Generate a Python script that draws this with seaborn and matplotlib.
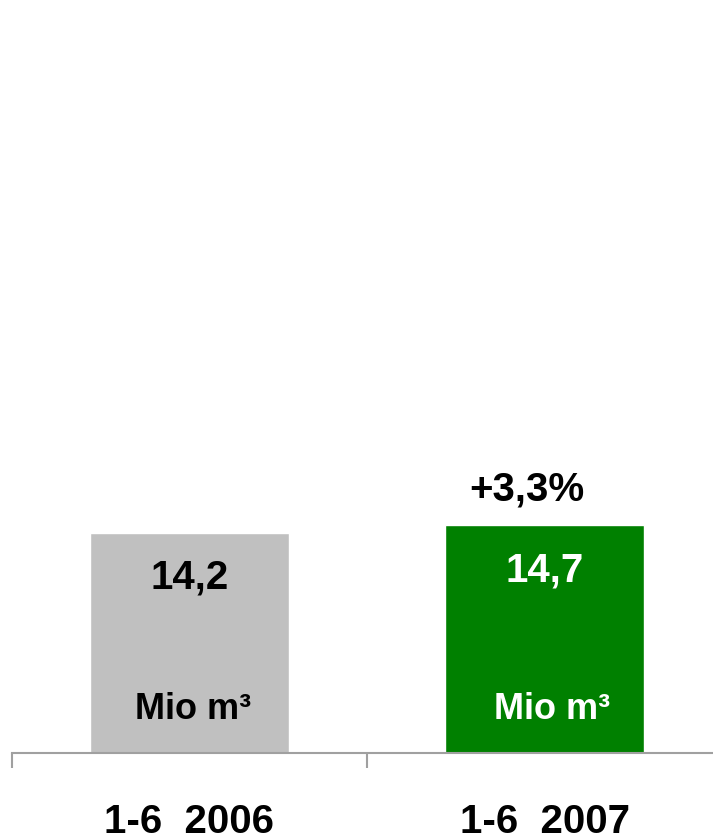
import seaborn as sns
import pandas as pd
import matplotlib.pyplot as plt

periods = ["1-6  2006", "1-6  2007"]
volumes = [14.2, 14.7]
bar_colors = ["#C0C0C0", "#008000"]
value_labels = ["14,2", "14,7"]
unit_label = "Mio m\u00b3"
growth_label = "+3,3%"

sns.set_style("white")
plt.rcParams["font.family"] = ["Liberation Sans", "DejaVu Sans"]

data = pd.DataFrame({"Period": periods, "Volume": volumes})

fig = plt.figure(figsize=(7.13, 8.4), dpi=100)
ax = fig.add_axes([12 / 713, 87 / 840, 710 / 713, 753 / 840])

sns.barplot(x="Period", y="Volume", hue="Period", data=data,
            palette=bar_colors, width=0.56, saturation=1, legend=False, ax=ax)

ax.set_xlim(-0.5, 1.5)
ax.set_ylim(0, 48.6)
for s in ["top", "right", "left"]:
    ax.spines[s].set_visible(False)
ax.spines["bottom"].set_color("#A0A0A0")
ax.spines["bottom"].set_linewidth(1.5)
ax.set_yticks([])
ax.set_xlabel("")
ax.set_ylabel("")

ax.set_xticks([0, 1])
ax.set_xticklabels(periods, fontsize=29, fontweight="bold", color="black")
ax.tick_params(axis="x", which="major", bottom=True, length=0, pad=36)
ax.set_xticks([-0.5, 0.5, 1.5], minor=True)
ax.tick_params(axis="x", which="minor", bottom=True, length=11, width=1.5,
               color="#A0A0A0", direction="out")

text_colors = ["black", "white"]
px = 753 / 48.6
for i, (v, lab) in enumerate(zip(volumes, value_labels)):
    ax.text(i, v - 45 / px, lab, ha="center", va="center", fontsize=29,
            fontweight="bold", color=text_colors[i])
    ax.text(i + 0.01 + 0.01 * i, 2.8, unit_label, ha="center", va="center",
            fontsize=26, fontweight="bold", color=text_colors[i])

ax.text(0.95, volumes[1] + 36 / px, growth_label, ha="center", va="center",
        fontsize=29, fontweight="bold", color="black")

fig.savefig("out.png", dpi=100)
